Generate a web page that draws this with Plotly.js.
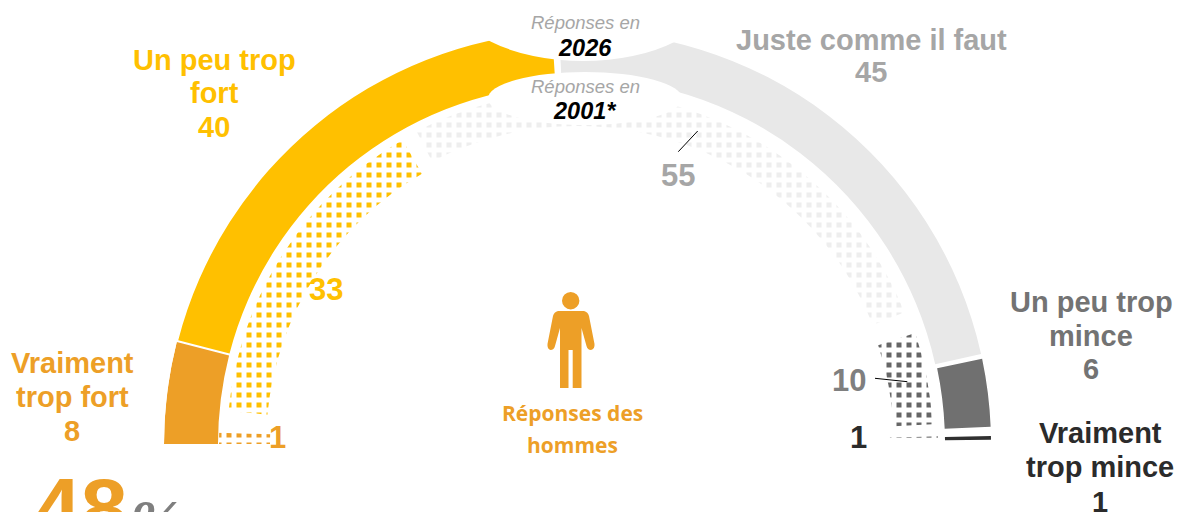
<!DOCTYPE html>
<html><head><meta charset="utf-8">
<script src="https://cdn.plot.ly/plotly-3.0.1.min.js"></script>
<style>html,body{margin:0;padding:0;background:#fff;overflow:hidden}#c{width:1178px;height:512px}</style>
</head><body><div id="c"></div>
<script>
const W = 1178, H = 512;
const categories = ['Vraiment trop fort','Un peu trop fort','Juste comme il faut','Un peu trop mince','Vraiment trop mince'];
const values2026 = [8, 40, 45, 6, 1];
const values2001 = [1, 33, 55, 10, 1];
const colors2026 = ['#ED9F27','#FFC000','#E8E8E8','#707070','#303030'];
const colors2001 = ['#ED9F27','#FFC000','#EEEEEE','#666666','#333333'];
// Ring radii and gaps (styling, in axis units)
const inner2026 = [360, 360, 366, 367, 367], outer2026 = [414, 413, 413, 413, 413];
const inner2001 = [308, 312, 318, 316, 312], outer2001 = [359, 351, 352, 355, 360];
const gapA2026 = [0, 0.15, 1, 0.7, 0.7], gapB2026 = [0.15, 0, 0, 0.6, 0.6];
const gapA2001 = [0, 3.6, 1.5, 1.6, 0.6], gapB2001 = [0, 1.2, 2.2, 1.4, 0.6];

function segs(vals, gA, gB){
  let cum = 0; const th = [], wd = [];
  vals.forEach((v,i)=>{
    const a = cum/100*180 + gA[i], b = (cum+v)/100*180 - gB[i];
    th.push((a+b)/2); wd.push(b-a); cum += v;
  });
  return {th, wd};
}
const s26 = segs(values2026, gapA2026, gapB2026);
const s01 = segs(values2001, gapA2001, gapB2001);

const t26 = {type:'barpolar', name:'2026', theta:s26.th, width:s26.wd,
  base:inner2026, r:outer2026.map((o,i)=>o-inner2026[i]), text:categories,
  marker:{color:colors2026, line:{width:0}}, hoverinfo:'skip'};
const t01 = {type:'barpolar', name:'2001', theta:s01.th, width:s01.wd,
  base:inner2001, r:outer2001.map((o,i)=>o-inner2001[i]), text:categories,
  marker:{color:'#ffffff', line:{width:0},
    pattern:{shape:'.', size:10, solidity:0.5, fgcolor:colors2001, bgcolor:'#ffffff', fillmode:'replace'}},
  hoverinfo:'skip'};

const xp = x => x/W, yp = y => 1 - y/H;
const ann = (x,y,text,size,color,extra) => Object.assign({xref:'paper',yref:'paper',x:xp(x),y:yp(y),
  xanchor:'center',yanchor:'middle',showarrow:false,text,
  font:{family:'"Liberation Sans", Arial, sans-serif',size,color}},extra||{});
const B = s => '<b>'+s+'</b>';
const annotations = [
  ann(214,60,B('Un peu trop'),29,'#FFC000'),ann(214,93,B('fort'),29,'#FFC000'),ann(214,127,B('40'),29,'#FFC000'),
  ann(72,363,B('Vraiment'),29,'#ED9F27'),ann(72,397,B('trop fort'),29,'#ED9F27'),ann(72,431,B('8'),29,'#ED9F27'),
  ann(871,40,B('Juste comme il faut'),29,'#A6A6A6'),ann(871,72,B('45'),29,'#A6A6A6'),
  ann(1091,302,B('Un peu trop'),29,'#737373'),ann(1091,336,B('mince'),29,'#737373'),ann(1091,369,B('6'),29,'#737373'),
  ann(1100,433,B('Vraiment'),29,'#2B2B2B'),ann(1100,467,B('trop mince'),29,'#2B2B2B'),ann(1100,502,B('1'),29,'#2B2B2B'),
  ann(326,289,B('33'),31,'#FFC000'),ann(277,437,B('1'),31,'#ED9F27'),
  ann(678,175,B('55'),31,'#A6A6A6'),ann(849,380,B('10'),31,'#7F7F7F'),ann(858,437,B('1'),31,'#2B2B2B'),
  ann(585,22,'<i>Réponses en</i>',18.5,'#A6A6A6'),ann(585,48,'<b><i>2026</i></b>',23.5,'#000'),
  ann(585,86,'<i>Réponses en</i>',18.5,'#A6A6A6'),ann(585,111,'<b><i>2001*</i></b>',23.5,'#000'),
  ann(572,413,B('Réponses des'),22,'#ED9F27',{font:{family:'"Open Sans", sans-serif',size:21,color:'#ED9F27'}}),
  ann(572,445,B('hommes'),22,'#ED9F27',{font:{family:'"Open Sans", sans-serif',size:21,color:'#ED9F27'}}),
  ann(80,539,B('48'),84,'#ED9F27',{yanchor:'bottom',yshift:-18}),
  ann(156,539,'<b><i>%</i></b>',62,'#7F7F7F',{yanchor:'bottom',yshift:-18,font:{family:'"Liberation Serif", serif',size:62,color:'#7F7F7F'}})
];
const pxPath = pts => pts;
const P = (x,y)=>xp(x).toFixed(5)+','+yp(y).toFixed(5);
const bodyPath = 'M'+P(558,311)+' L'+P(584,311)+' Q'+P(588,312)+' '+P(589,316)+
  ' L'+P(594.5,344)+' Q'+P(595,349)+' '+P(591,350)+' Q'+P(587.5,350)+' '+P(586.5,346)+
  ' L'+P(581.5,328)+' L'+P(581.5,388)+' L'+P(572.7,388)+' L'+P(572.7,350)+' L'+P(568.5,350)+' L'+P(568.5,388)+
  ' L'+P(560,388)+' L'+P(560,328)+' L'+P(555,346)+' Q'+P(554,350)+' '+P(550.5,350)+' Q'+P(547,349)+' '+P(547.5,344)+
  ' L'+P(553,316)+' Q'+P(554,312)+' '+P(558,311)+' Z';
const shapes = [
  {type:'circle',xref:'paper',yref:'paper',layer:'above',x0:xp(453),x1:xp(713),y0:yp(-71),y1:yp(61),fillcolor:'#fff',line:{width:0}},
  {type:'circle',xref:'paper',yref:'paper',layer:'above',x0:xp(488),x1:xp(682),y0:yp(72),y1:yp(125),fillcolor:'#fff',line:{width:0}},
  {type:'circle',xref:'paper',yref:'paper',layer:'above',x0:xp(562),x1:xp(579.4),y0:yp(292),y1:yp(309.4),fillcolor:'#ED9F27',line:{width:0}},
  {type:'path',xref:'paper',yref:'paper',layer:'above',path:bodyPath,fillcolor:'#ED9F27',line:{width:0}},
  {type:'line',xref:'paper',yref:'paper',layer:'above',x0:xp(678.3),y0:yp(151.7),x1:xp(697.7),y1:yp(131),line:{color:'#000',width:1}},
  {type:'line',xref:'paper',yref:'paper',layer:'above',x0:xp(875),y0:yp(378.3),x1:xp(907.3),y1:yp(381.7),line:{color:'#000',width:1}}
];
const layout = {width:W,height:H,margin:{l:0,r:0,t:0,b:0},paper_bgcolor:'#fff',showlegend:false,
  polar:{domain:{x:[xp(164),xp(992)],y:[yp(444),yp(30)]},sector:[0,180],bgcolor:'rgba(0,0,0,0)',
    radialaxis:{range:[0,414],visible:false},
    angularaxis:{rotation:180,direction:'clockwise',visible:false,thetaunit:'degrees'}},
  annotations,shapes};
function checker(){
  document.querySelectorAll('pattern circle').forEach(c=>{
    const r=document.createElementNS('http://www.w3.org/2000/svg','rect');
    const p=c.closest('pattern'), s=parseFloat(p.getAttribute('width'))/2;
    const cx=parseFloat(c.getAttribute('cx')), cy=parseFloat(c.getAttribute('cy'));
    r.setAttribute('x',cx-s/2);r.setAttribute('y',cy-s/2);r.setAttribute('width',s);r.setAttribute('height',s);
    r.setAttribute('fill',c.getAttribute('fill')||c.style.fill);
    const st=c.getAttribute('style'); if(st) r.setAttribute('style',st);
    c.replaceWith(r);
  });
}
Plotly.newPlot('c',[t26,t01],layout,{displayModeBar:false,staticPlot:true}).then(checker);
</script></body></html>
